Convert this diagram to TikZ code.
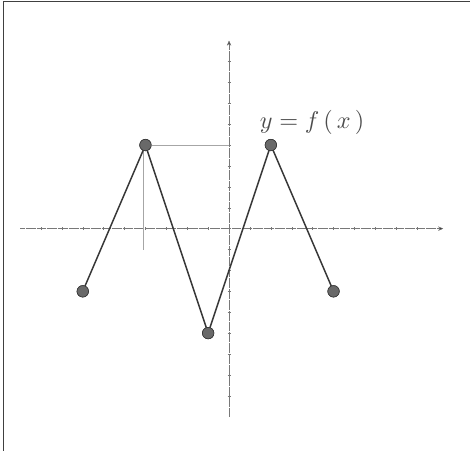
\documentclass[tikz,border=0pt]{standalone}
\usepackage{amsmath}
\usetikzlibrary{arrows.meta, positioning, calc}
\definecolor{inkgray}{RGB}{55,55,55}
\definecolor{axisgray}{RGB}{120,120,120}
\definecolor{dotfill}{RGB}{105,105,105}

\begin{document}
\begin{tikzpicture}[
    axis/.style={draw=axisgray, densely dotted, line width=0.5pt, -{Stealth[length=7pt, width=6pt, fill=inkgray]}},
    tick/.style={draw=axisgray, line width=0.6pt},
    graphline/.style={draw=inkgray, line width=2pt},
    vdot/.style={circle, draw=inkgray, fill=dotfill, line width=0.8pt, inner sep=0pt, minimum size=0.55cm},
    helper/.style={draw=black!35, line width=0.5pt},
]
    \useasboundingbox (-10.96,-10.64) rectangle (11.53,10.94);
    % scan frame
    \draw[black!75, line width=0.8pt] (-10.8,-10.64) -- (-10.8,10.86) -- (11.53,10.86);

    % axes
    \coordinate (xl) at (-10,0);
    \coordinate (xr) at (10.25,0);
    \coordinate (yb) at (0,-9);
    \coordinate (yt) at (0,9.0);
    \draw[axis] (xl) -- (xr);
    \draw[axis] (yb) -- (yt);
    \foreach \i in {-9,...,9}
        \draw[tick] (\i,-0.07) -- (\i,0.07);
    \foreach \j in {-8,...,8}
        \draw[tick] (-0.07,\j) -- (0.07,\j);

    % vertices
    \node[vdot] (p1) at (-7,-3) {};
    \node[vdot] (p2) at (-4,4) {};
    \node[vdot] (p3) at (-1,-5) {};
    \node[vdot] (p4) at (2,4) {};
    \node[vdot] (p5) at (5,-3) {};

    % guide lines
    \coordinate (g1) at (0,4);
    \coordinate (g2) at (-4.12,-1);
    \draw[helper] (p2.center) -- (g1);
    \draw[helper] ($(p2.center)+(-0.12,0)$) -- (g2);

    \draw[graphline] (p1.center) -- (p2.center) -- (p3.center) -- (p4.center) -- (p5.center);
    \foreach \p in {p1,p2,p3,p4,p5}
        \node[vdot] at (\p) {};

    \node[text=black!70] (lbl) at (3.97,5.1) {\scalebox{3.3}{$y=f\,(\,x\,)$}};
\end{tikzpicture}
\end{document}
